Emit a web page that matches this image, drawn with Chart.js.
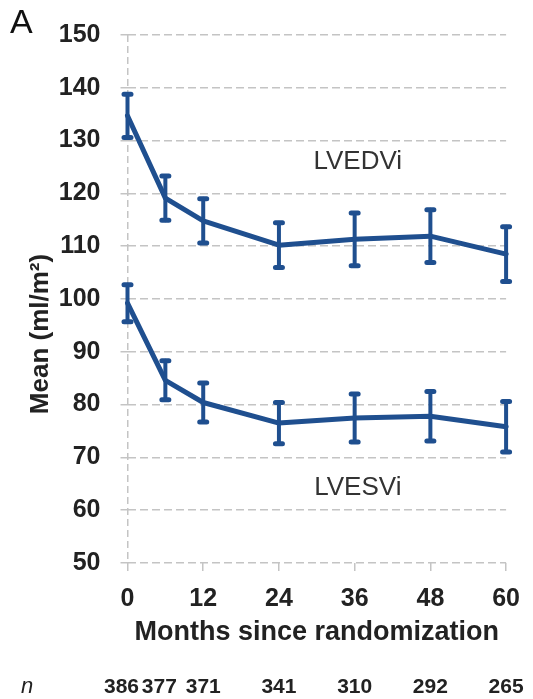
<!DOCTYPE html>
<html>
<head>
<meta charset="utf-8">
<script src="https://cdn.jsdelivr.net/npm/chart.js@4/dist/chart.umd.min.js"></script>
<style>
  html, body { margin: 0; padding: 0; background: #fff; }
  #wrap { position: relative; width: 533px; height: 699px; }
</style>
</head>
<body>
<div id="wrap"><canvas id="c" width="533" height="699"></canvas></div>
<script>
// Follow-up times (months since randomization)
const months = [0, 6, 12, 24, 36, 48, 60];
// Patients with measurements at each time point
const nAtRisk = [386, 377, 371, 341, 310, 292, 265];

// Left-ventricular end-diastolic volume index (ml/m²): mean and error half-width
const lvedviMean = [134.7, 119.1, 114.8, 110.2, 111.3, 111.9, 108.5];
const lvedviErr  = [4.1, 4.2, 4.2, 4.25, 5.0, 5.0, 5.2];

// Left-ventricular end-systolic volume index (ml/m²): mean and error half-width
const lvesviMean = [99.2, 84.6, 80.4, 76.5, 77.45, 77.8, 75.8];
const lvesviErr  = [3.5, 3.7, 3.7, 3.9, 4.55, 4.7, 4.8];

// Axis ticks
const xTicks = [0, 12, 24, 36, 48, 60];
const yMin = 50, yMax = 150, yStep = 10;

// Series labels placed in data coordinates
const seriesLabels = [
  { text: 'LVEDVi', x: 36.5, y: 126.0 },
  { text: 'LVESVi', x: 36.5, y: 64.2 }
];

const BLUE = '#1f4f8f';
const GRID = '#c4c4c4';
const FONT = '"Liberation Sans", Arial, Helvetica, sans-serif';

const toPoints = (means) => months.map((m, i) => ({ x: m, y: means[i] }));

// Error bars with rounded caps, drawn from the dataset values through the scales
const errorBars = {
  id: 'errorBars',
  afterDatasetsDraw(chart) {
    const { ctx, scales: { x, y } } = chart;
    const sets = [[lvedviMean, lvedviErr], [lvesviMean, lvesviErr]];
    ctx.save();
    ctx.strokeStyle = BLUE;
    ctx.lineCap = 'round';
    sets.forEach(([mean, err]) => {
      months.forEach((m, i) => {
        const px = x.getPixelForValue(m);
        const top = y.getPixelForValue(mean[i] + err[i]);
        const bot = y.getPixelForValue(mean[i] - err[i]);
        ctx.lineWidth = 4;
        ctx.beginPath();
        ctx.moveTo(px, top); ctx.lineTo(px, bot);
        ctx.stroke();
        ctx.lineWidth = 5;
        ctx.beginPath();
        ctx.moveTo(px - 3.5, top); ctx.lineTo(px + 3.5, top);
        ctx.moveTo(px - 3.5, bot); ctx.lineTo(px + 3.5, bot);
        ctx.stroke();
      });
    });
    ctx.restore();
  }
};

// Panel letter, axis title, series names and the n row under the axis
const annotations = {
  id: 'annotations',
  afterDraw(chart) {
    const { ctx, scales: { x, y } } = chart;
    ctx.save();
    ctx.fillStyle = '#111';
    ctx.font = '34px ' + FONT;
    ctx.textAlign = 'left';
    ctx.textBaseline = 'alphabetic';
    ctx.fillText('A', 10, 33);

    // y-axis title
    ctx.save();
    ctx.translate(41, 334);
    ctx.rotate(-Math.PI / 2);
    ctx.fillStyle = '#222';
    ctx.font = 'bold 26px ' + FONT;
    ctx.textAlign = 'center';
    ctx.textBaseline = 'middle';
    ctx.fillText('Mean (ml/m²)', 0, 0);
    ctx.restore();

    ctx.fillStyle = '#333';
    ctx.font = '26px ' + FONT;
    ctx.textAlign = 'center';
    ctx.textBaseline = 'middle';
    seriesLabels.forEach(l => {
      ctx.fillText(l.text, x.getPixelForValue(l.x), y.getPixelForValue(l.y));
    });

    ctx.fillStyle = '#222';
    ctx.font = 'italic 22px ' + FONT;
    ctx.textAlign = 'center';
    ctx.fillText('n', 27, 687);
    ctx.font = 'bold 21px ' + FONT;
    months.forEach((m, i) => {
      ctx.fillText(String(nAtRisk[i]), x.getPixelForValue(m) - (m < 12 ? 6 : 0), 687);
    });
    ctx.restore();
  }
};

new Chart(document.getElementById('c'), {
  type: 'line',
  data: {
    datasets: [
      { label: 'LVEDVi', data: toPoints(lvedviMean), borderColor: BLUE, borderWidth: 5,
        pointRadius: 0, tension: 0, fill: false, clip: false, borderJoinStyle: 'round', borderCapStyle: 'round' },
      { label: 'LVESVi', data: toPoints(lvesviMean), borderColor: BLUE, borderWidth: 5,
        pointRadius: 0, tension: 0, fill: false, clip: false, borderJoinStyle: 'round', borderCapStyle: 'round' }
    ]
  },
  options: {
    responsive: false,
    animation: false,
    devicePixelRatio: 1,
    layout: { padding: { top: 33, right: 25, bottom: 0, left: 0 } },
    plugins: { legend: { display: false }, tooltip: { enabled: false } },
    scales: {
      x: {
        type: 'linear',
        min: 0, max: 60,
        afterBuildTicks(scale) { scale.ticks = xTicks.map(v => ({ value: v })); },
        afterFit(scale) { scale.height = 136; },
        grid: {
          drawOnChartArea: true, drawTicks: true, tickLength: 8,
          color: (c) => (c.tick && c.tick.value === 0 ? GRID : 'rgba(0,0,0,0)'),
          tickColor: GRID, lineWidth: 1.5, tickWidth: 1.5
        },
        border: { display: false, dash: [7, 4] },
        ticks: { color: '#222', font: { family: FONT, size: 25, weight: 'bold' }, padding: 13 },
        title: { display: true, text: 'Months since randomization', color: '#222',
                 font: { family: FONT, size: 27, weight: 'bold' }, padding: { top: 0, bottom: 50 } }
      },
      y: {
        min: yMin, max: yMax,
        ticks: { stepSize: yStep, color: '#222', font: { family: FONT, size: 25, weight: 'bold' }, padding: 20 },
        afterFit(scale) { scale.width = 127.5; },
        grid: { color: GRID, lineWidth: 1.5, tickLength: 7 },
        border: { display: false, dash: [8, 4] },
        title: { display: false }
      }
    }
  },
  plugins: [errorBars, annotations]
});
</script>
</body>
</html>
